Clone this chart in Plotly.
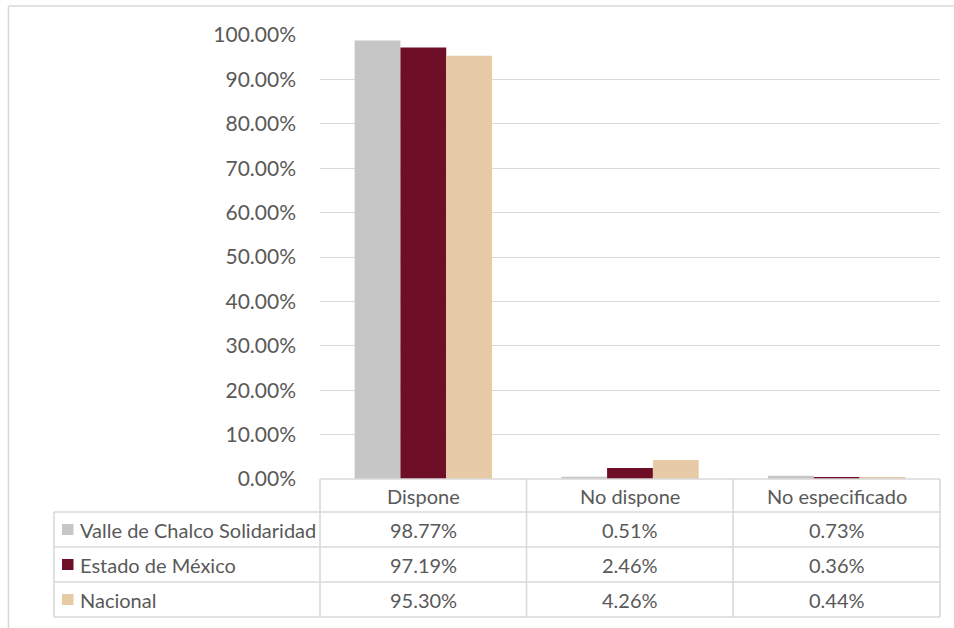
import plotly.graph_objects as go

categories = ["Dispone", "No dispone", "No especificado"]
series_names = ["Valle de Chalco Solidaridad", "Estado de México", "Nacional"]
valle = [98.77, 0.51, 0.73]
edomex = [97.19, 2.46, 0.36]
nacional = [95.30, 4.26, 0.44]
colors = ["#C6C6C6", "#6F0E27", "#E6CBA6"]
tick_vals = [0, 10, 20, 30, 40, 50, 60, 70, 80, 90, 100]

W, H = 954, 628
FONT = "Lato"
TXT = "#595959"
GRID = "#D9D9D9"
TSIZE = 20

def px(x):
    return x / W

def py(y):
    return 1 - y / H

series = [valle, edomex, nacional]
fig = go.Figure()
for name, vals, col in zip(series_names, series, colors):
    fig.add_trace(go.Bar(
        x=categories, y=[v / 100 for v in vals], name=name,
        marker=dict(color=col, line=dict(width=0)),
    ))

fig.update_layout(
    width=W, height=H,
    margin=dict(l=0, r=0, t=0, b=0),
    paper_bgcolor="white", plot_bgcolor="white",
    barmode="group", bargap=0.335, bargroupgap=0,
    showlegend=False,
    font=dict(family=FONT, color=TXT, size=TSIZE),
    xaxis=dict(domain=[px(320), px(940)], showticklabels=False, showgrid=False,
               zeroline=False, showline=False, ticks="", automargin=False),
    yaxis=dict(domain=[py(479), py(35)], range=[0, 1.0],
               tickvals=[t / 100 for t in tick_vals], tickformat=".2%",
               showgrid=True, gridcolor=GRID, gridwidth=1.3,
               zeroline=False, showline=False, ticks="", automargin=False,
               ticklabelstandoff=23,
               tickfont=dict(family=FONT, size=21, color=TXT)),
)

shapes = []
LW = 1.6
# outer chart border (top and left)
shapes.append(dict(type="line", xref="paper", yref="paper", x0=px(8.5), x1=px(954), y0=py(6), y1=py(6),
                   line=dict(color=GRID, width=LW)))
shapes.append(dict(type="line", xref="paper", yref="paper", x0=px(8.5), x1=px(8.5), y0=py(6), y1=py(628),
                   line=dict(color=GRID, width=LW)))

col_x = [54, 320, 526.5, 733, 940]
row_y = [479, 512, 547, 582, 617]
# horizontal lines
for i, y in enumerate(row_y):
    x0 = col_x[1] if i == 0 else col_x[0]
    shapes.append(dict(type="line", xref="paper", yref="paper", x0=px(x0), x1=px(col_x[-1]),
                       y0=py(y), y1=py(y), line=dict(color=GRID, width=LW)))
# vertical lines
for j, x in enumerate(col_x):
    y0 = row_y[1] if j == 0 else row_y[0]
    shapes.append(dict(type="line", xref="paper", yref="paper", x0=px(x), x1=px(x),
                       y0=py(y0), y1=py(row_y[-1]), line=dict(color=GRID, width=LW)))

annotations = []
# header
for c in categories:
    annotations.append(dict(x=c, xref="x", y=py((row_y[0] + row_y[1]) / 2), yref="paper",
                            text=c, showarrow=False, xanchor="center", yanchor="middle",
                            font=dict(family=FONT, size=TSIZE, color=TXT)))
for r, (name, vals, col) in enumerate(zip(series_names, series, colors)):
    yc = (row_y[r + 1] + row_y[r + 2]) / 2
    # legend key
    shapes.append(dict(type="rect", xref="paper", yref="paper", x0=px(62), x1=px(73.5),
                       y0=py(yc + 5.5), y1=py(yc - 5.5), fillcolor=col, line=dict(width=0)))
    annotations.append(dict(x=px(78), xref="paper", y=py(yc), yref="paper", text=name,
                            showarrow=False, xanchor="left", yanchor="middle",
                            font=dict(family=FONT, size=TSIZE, color=TXT)))
    for c, v in zip(categories, vals):
        annotations.append(dict(x=c, xref="x", y=py(yc), yref="paper", text=f"{v:.2f}%",
                                showarrow=False, xanchor="center", yanchor="middle",
                                font=dict(family=FONT, size=TSIZE, color=TXT)))

fig.update_layout(shapes=shapes, annotations=annotations)
fig.write_html("out.html", config={"displayModeBar": False},
               post_script="document.body.style.margin='0';document.body.style.overflow='hidden';")
